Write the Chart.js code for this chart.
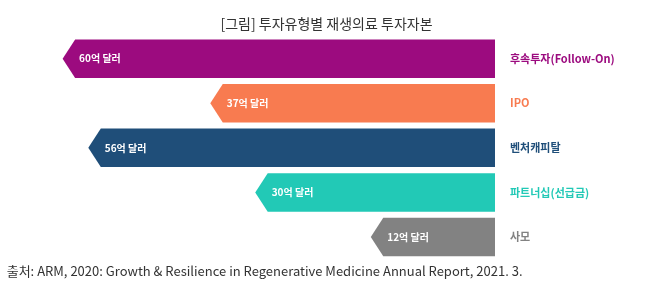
<!DOCTYPE html>
<html>
<head>
<meta charset="utf-8">
<script src="https://cdn.jsdelivr.net/npm/chart.js@4"></script>
<style>
  html, body { margin: 0; padding: 0; background: #fff; }
  #wrap { width: 653px; height: 281px; }
</style>
</head>
<body>
<div id="wrap"><canvas id="chart"></canvas></div>
<script>
const categories = ['후속투자(Follow-On)', 'IPO', '벤처캐피탈', '파트너십(선급금)', '사모'];
const amounts = [60, 37, 56, 30, 12];
const amountLabels = ['60억 달러', '37억 달러', '56억 달러', '30억 달러', '12억 달러'];
const colors = ['#9c0b7f', '#f87b50', '#1f4e79', '#22c9b6', '#828282'];
const titleText = '[그림] 투자유형별 재생의료 투자자본';
const sourceText = '출처: ARM, 2020: Growth & Resilience in Regenerative Medicine Annual Report, 2021. 3.';

// draws each bar as a left-pointing arrow with its amount inside
const arrowBars = {
    id: 'arrowBars',
    beforeDatasetsDraw(chart) {
        const ctx = chart.ctx;
        chart.getDatasetMeta(0).data.forEach((bar, i) => {
            const top = bar.y - bar.height / 2;
            const bottom = bar.y + bar.height / 2;
            const body = bar.x + 12.5;
            ctx.save();
            ctx.fillStyle = colors[i];
            ctx.beginPath();
            ctx.moveTo(bar.base, top);
            ctx.lineTo(body, top);
            ctx.lineTo(bar.x, bar.y);
            ctx.lineTo(body, bottom);
            ctx.lineTo(bar.base, bottom);
            ctx.closePath();
            ctx.fill();
            ctx.fillStyle = '#ffffff';
            ctx.font = 'bold 10px "Noto Sans CJK KR"';
            ctx.textBaseline = 'middle';
            ctx.fillText(amountLabels[i], body + 4, bar.y);
            ctx.restore();
        });
        return false;
    }
};

new Chart(document.getElementById('chart'), {
    type: 'bar',
    data: {
        labels: categories,
        datasets: [{
            data: amounts,
            base: -7.35,
            backgroundColor: colors,
            barPercentage: 0.863,
            categoryPercentage: 1
        }]
    },
    options: {
        indexAxis: 'y',
        responsive: true,
        maintainAspectRatio: false,
        animation: false,
        layout: { padding: { left: 6.7, right: 6.7, top: 0, bottom: 0 } },
        scales: {
            x: { type: 'linear', reverse: true, min: -7.35, max: 68.71, display: false },
            y: {
                position: 'right',
                grid: { display: false, drawTicks: false },
                border: { display: false },
                ticks: {
                    padding: 15,
                    color: (c) => colors[c.index],
                    font: { family: '"Noto Sans CJK KR"', size: 11, weight: 'bold' }
                },
                afterFit(scale) { scale.width = 151.3; }
            }
        },
        plugins: {
            legend: { display: false },
            tooltip: { enabled: false },
            title: {
                display: true,
                text: titleText,
                color: '#333333',
                font: { family: '"Noto Sans CJK KR"', size: 14, weight: 'normal', lineHeight: 1.2 },
                padding: { top: 15.6, bottom: 4 }
            },
            subtitle: {
                display: true,
                position: 'bottom',
                align: 'start',
                text: sourceText,
                color: '#333333',
                font: { family: '"Liberation Sans Narrow", "Noto Sans CJK KR", sans-serif', size: 13, weight: 'normal', lineHeight: 1.2 },
                padding: { top: 3.6, bottom: 2.5 }
            }
        }
    },
    plugins: [arrowBars]
});
</script>
</body>
</html>
